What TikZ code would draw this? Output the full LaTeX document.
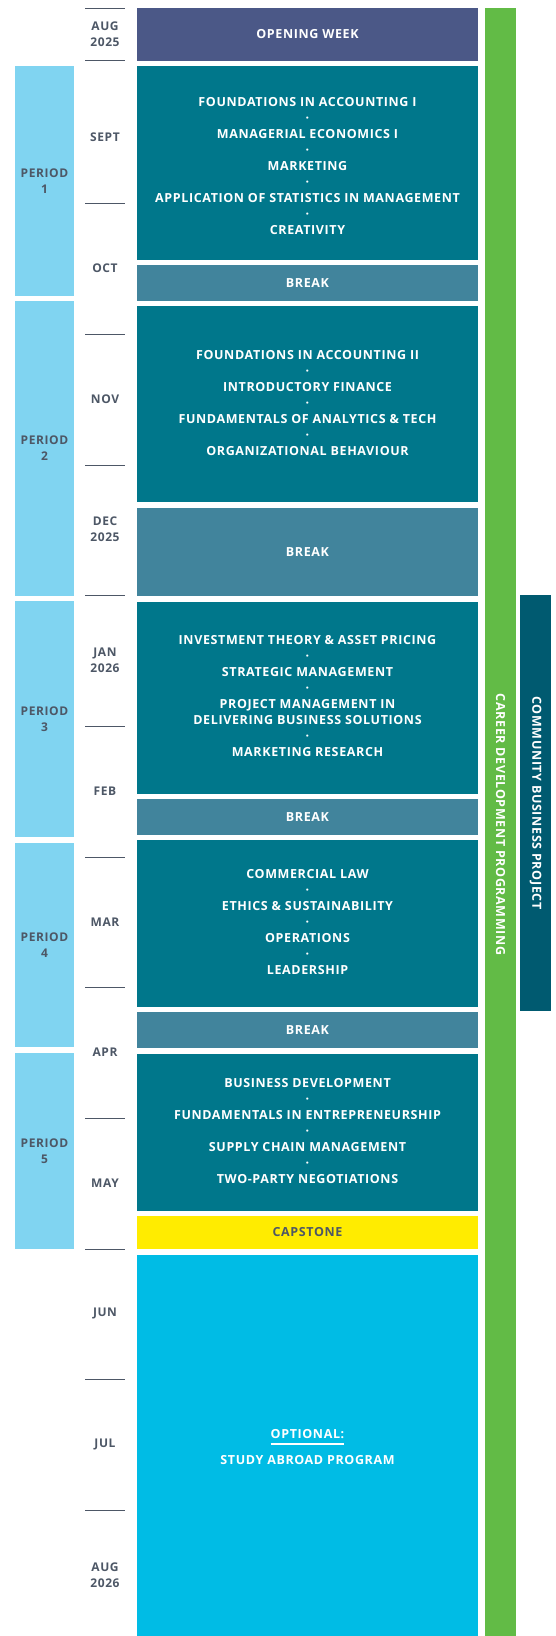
\documentclass[tikz,border=0pt]{standalone}
\usepackage{fontspec}
\setmainfont[LetterSpace=5]{Open Sans}
\definecolor{openblue}{HTML}{4B5887}
\definecolor{courseteal}{HTML}{00778B}
\definecolor{breakteal}{HTML}{41849C}
\definecolor{periodblue}{HTML}{80D4F1}
\definecolor{capyellow}{HTML}{FFEC00}
\definecolor{abroadblue}{HTML}{00BCE5}
\definecolor{careergreen}{HTML}{62BB46}
\definecolor{communityteal}{HTML}{005A70}
\definecolor{monthgrey}{HTML}{4D5766}
\begin{document}
\begin{tikzpicture}[x=1pt,y=-1pt,
		month/.style={text=monthgrey,font=\bfseries\fontsize{12}{16}\selectfont,align=center,inner sep=0},
		coursetxt/.style={text=white,font=\bfseries\fontsize{12.5}{16}\selectfont,align=center,inner sep=0},
		bartxt/.style={text=white,font=\bfseries\fontsize{12.5}{16}\selectfont,rotate=-90,inner sep=0}]
		\useasboundingbox (0,0) rectangle (556,1636);
		% month ticks
			\foreach \y in {8,60.3,203,334.3,465.3,595,726,857.3,987,1118,1249,1379.3,1510.3}{
				\draw[monthgrey,line width=1pt] (85,\y) -- (125,\y);
				}
		% months
			\foreach \y/\m [count=\i] in {34/{AUG\\2025},137/SEPT,268/OCT,399.3/NOV,529.5/{DEC\\2025},
					660.5/{JAN\\2026},791.3/FEB,921.7/MAR,1052.3/APR,1183.3/MAY,1313.3/JUN,1444.3/JUL,1575.5/{AUG\\2026}}{
				\node[month] (m\i) at (105,\y) {\m};
				}
		% periods
			\foreach \t/\b [count=\n] in {66/295.7,301/595.7,601/837.3,843/1046.7,1053/1248.7}{
				\fill[periodblue] (15,\t) rectangle (74,\b);
				\node[month] (p\n) at (44.5,{(\t+\b)/2}) {PERIOD\\\n};
				}
		% opening week
			\fill[openblue] (137,8) rectangle (478,60.7);
			\node[coursetxt] (open) at (307.5,34.3) {OPENING WEEK};
		% courses
			\fill[courseteal] (137,66) rectangle (478,259.7);
			\node[coursetxt] (c1) at (307.5,166.3) {FOUNDATIONS IN ACCOUNTING I\\·\\MANAGERIAL ECONOMICS I\\·\\MARKETING\\·\\APPLICATION OF STATISTICS IN MANAGEMENT\\·\\CREATIVITY};
			\fill[courseteal] (137,306) rectangle (478,501.7);
			\node[coursetxt] (c2) at (307.5,403.3) {FOUNDATIONS IN ACCOUNTING II\\·\\INTRODUCTORY FINANCE\\·\\FUNDAMENTALS OF ANALYTICS \& TECH\\·\\ORGANIZATIONAL BEHAVIOUR};
			\fill[courseteal] (137,602) rectangle (478,793.7);
			\node[coursetxt] (c3) at (307.5,696.3) {INVESTMENT THEORY \& ASSET PRICING\\·\\STRATEGIC MANAGEMENT\\·\\PROJECT MANAGEMENT IN\\DELIVERING BUSINESS SOLUTIONS\\·\\MARKETING RESEARCH};
			\fill[courseteal] (137,840) rectangle (478,1006.7);
			\node[coursetxt] (c4) at (307.5,922.3) {COMMERCIAL LAW\\·\\ETHICS \& SUSTAINABILITY\\·\\OPERATIONS\\·\\LEADERSHIP};
			\fill[courseteal] (137,1054) rectangle (478,1210.7);
			\node[coursetxt] (c5) at (307.5,1131.3) {BUSINESS DEVELOPMENT\\·\\FUNDAMENTALS IN ENTREPRENEURSHIP\\·\\SUPPLY CHAIN MANAGEMENT\\·\\TWO-PARTY NEGOTIATIONS};
		% breaks
			\foreach \t/\b [count=\i] in {265/300.7,508.3/595.7,799/835,1012/1047.7}{
				\fill[breakteal] (137,\t) rectangle (478,\b);
				\node[coursetxt] (br\i) at (307.5,{(\t+\b)/2}) {BREAK};
				}
		% capstone
			\fill[capyellow] (137,1216) rectangle (478,1248.7);
			\node[coursetxt,text=monthgrey] (cap) at (307.5,1232.3) {CAPSTONE};
		% study abroad
			\fill[abroadblue] (137,1255) rectangle (478,1636);
			\node[coursetxt] (opt) at (307.5,1434.3) {OPTIONAL:};
			\draw[white,line width=1.6pt] ([yshift=-5pt]opt.base west) -- ([yshift=-5pt]opt.base east);
			\node[coursetxt] (abroad) at (307.5,1460.3) {STUDY ABROAD PROGRAM};
		% side bars
			\fill[careergreen] (485,8) rectangle (516,1636);
			\node[bartxt] (career) at (500.5,824.5) {CAREER DEVELOPMENT PROGRAMMING};
			\fill[communityteal] (520,595) rectangle (551,1011);
			\node[bartxt] (community) at (535.5,803) {COMMUNITY BUSINESS PROJECT};
	\end{tikzpicture}
\end{document}
